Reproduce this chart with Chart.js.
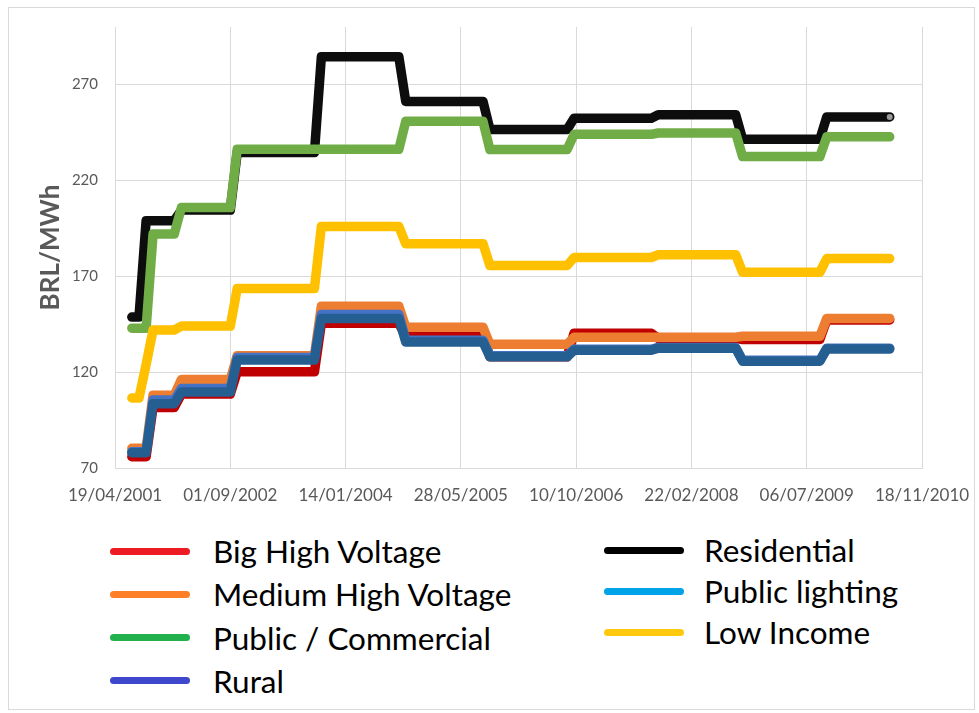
<!DOCTYPE html>
<html lang="en">
<head>
<meta charset="UTF-8">
<title>Electricity tariffs BRL/MWh</title>
<style>
    body{
        margin: 0;
        background: #fff;
        font-family: Lato, sans-serif;
    }
    .wrap{
        position: relative;
        width: 979px;
        height: 713px;
        overflow: hidden;
    }
    .frame{
        position: absolute;
        left: 8px;
        top: 7px;
        width: 967px;
        height: 703px;
        border: 1px solid #d9d9d9;
        box-sizing: border-box;
    }
    #chart{
        position: absolute;
        left: 0;
        top: 0;
    }
    .item{
        position: absolute;
        height: 30px;
        display: flex;
        align-items: center;
        font-size: 31.5px;
        color: #000;
        white-space: nowrap;
    }
    .swatch{
        display: inline-block;
        width: 80px;
        height: 7px;
        border-radius: 4px;
        margin-right: 23px;
    }
</style>
</head>
<body>
<div class="wrap">
    <div class="frame"></div>
    <canvas id="chart" width="979" height="520"></canvas>
    <div id="legend"></div>
</div>

<script src="https://cdn.jsdelivr.net/npm/chart.js"></script>
<script>
// dates where tariffs change (dd/mm/yyyy)
const dates = [
    '01/07/2001', '01/08/2001', '01/09/2001', '01/10/2001',
    '01/01/2002', '01/02/2002', '01/09/2002', '01/10/2002',
    '01/09/2003', '01/10/2003', '01/09/2004', '01/10/2004',
    '01/09/2005', '01/10/2005', '01/09/2006', '01/10/2006',
    '01/09/2007', '01/10/2007', '01/09/2008', '01/10/2008',
    '01/09/2009', '01/10/2009', '01/07/2010'
];

// BRL/MWh at each date
const bigHighVoltage    = [75.9, 75.9, 75.9, 101.6, 101.6, 108.6, 108.6, 120.2, 120.2, 145.5, 145.5, 138.6, 138.6, 128.0, 128.0, 140.3, 140.3, 137.6, 137.6, 137.0, 137.0, 147.2, 147.2];
const mediumHighVoltage = [80.3, 80.3, 80.3, 108.0, 108.0, 116.1, 116.1, 128.6, 128.6, 154.4, 154.4, 143.4, 143.4, 134.5, 134.5, 138.2, 138.2, 138.2, 138.2, 138.7, 138.7, 148.0, 148.0];
const publicCommercial  = [142.9, 142.9, 142.9, 192.0, 192.0, 205.8, 205.8, 236.2, 236.2, 236.2, 236.2, 250.8, 250.8, 236.1, 236.1, 244.0, 244.0, 244.7, 244.7, 232.4, 232.4, 242.7, 242.7];
const rural             = [78.5, 78.5, 78.5, 105.5, 105.5, 111.5, 111.5, 127.6, 127.6, 150.0, 150.0, 136.6, 136.6, 128.6, 128.6, 131.9, 131.9, 132.9, 132.9, 126.2, 126.2, 132.5, 132.5];
const residential       = [148.7, 148.7, 199.0, 199.0, 199.0, 204.5, 204.5, 234.6, 234.6, 284.5, 284.5, 261.2, 261.2, 246.6, 246.6, 252.4, 252.4, 254.2, 254.2, 241.4, 241.4, 253.1, 253.1];
const publicLighting    = [77.9, 77.9, 77.9, 103.5, 103.5, 109.6, 109.6, 126.3, 126.3, 148.0, 148.0, 135.7, 135.7, 128.0, 128.0, 131.4, 131.4, 132.5, 132.5, 125.7, 125.7, 132.0, 132.0];
const lowIncome         = [106.5, 106.5, 124.0, 142.0, 142.0, 144.0, 144.0, 163.6, 163.6, 196.0, 196.0, 187.0, 187.0, 175.6, 175.6, 179.8, 179.8, 181.2, 181.2, 172.1, 172.1, 179.2, 179.2];

const seriesNames = ['Big High Voltage', 'Medium High Voltage', 'Public / Commercial', 'Rural',
                     'Residential', 'Public lighting', 'Low Income'];
const seriesData = [bigHighVoltage, mediumHighVoltage, publicCommercial, rural,
                    residential, publicLighting, lowIncome];

// axis range
const xStart = '19/04/2001';
const xEnd = '18/11/2010';
const xStepDays = 500;
const yTicks = [70, 120, 170, 220, 270];
const yMax = 300;

// styles
const lineColors = ['#C00000', '#ED7D31', '#70AD47', '#4472C4', '#0D0D0D', '#255E91', '#FFC000'];
const legendColors = ['#ED1C24', '#FF7F27', '#22B14C', '#3F48CC', '#000000', '#00A2E8', '#FFC90E'];
const drawOrder = [6, 5, 1, 4, 2, 3, 0]; // lower = on top

function toSerial(s) {
    const [d, m, y] = s.split('/').map(Number);
    return Date.UTC(y, m - 1, d) / 86400000 + 25569;
}
function pad(n) { return n < 10 ? '0' + n : '' + n; }
function fromSerial(n) {
    const dt = new Date((n - 25569) * 86400000);
    return pad(dt.getUTCDate()) + '/' + pad(dt.getUTCMonth() + 1) + '/' + dt.getUTCFullYear();
}

const xs = dates.map(toSerial);

const datasets = seriesNames.map((name, i) => ({
    label: name,
    data: seriesData[i].map((v, j) => ({ x: xs[j], y: v })),
    borderColor: lineColors[i],
    backgroundColor: lineColors[i],
    borderWidth: 9.5,
    borderCapStyle: 'round',
    borderJoinStyle: 'round',
    pointRadius: name === 'Residential' ? (c => c.dataIndex === dates.length - 1 ? 3 : 0) : 0,
    pointBackgroundColor: '#9a9a9a',
    pointBorderWidth: 0,
    tension: 0,
    order: drawOrder[i]
}));

new Chart(document.getElementById('chart'), {
    type: 'line',
    data: { datasets: datasets },
    options: {
        responsive: false,
        animation: false,
        devicePixelRatio: 1,
        layout: { padding: { left: 0, right: 57, top: 27, bottom: 0 } },
        plugins: {
            legend: { display: false },
            tooltip: { enabled: false }
        },
        scales: {
            x: {
                type: 'linear',
                min: toSerial(xStart),
                max: toSerial(xEnd),
                grid: { color: '#d9d9d9', lineWidth: 1, drawTicks: false },
                border: { color: '#d9d9d9' },
                ticks: {
                    stepSize: xStepDays,
                    autoSkip: false,
                    maxRotation: 0,
                    padding: 17,
                    color: '#595959',
                    font: { family: 'Lato', size: 17 },
                    callback: v => fromSerial(v)
                },
                afterFit: s => {
                    s.height = 52;
                    s.paddingRight = 0;
                    s.paddingLeft = 0;
                }
            },
            y: {
                min: yTicks[0],
                max: yMax,
                grid: { color: '#d9d9d9', lineWidth: 1, drawTicks: false },
                border: { color: '#d9d9d9' },
                ticks: {
                    padding: 17,
                    color: '#595959',
                    font: { family: 'Lato', size: 15 }
                },
                afterBuildTicks: s => { s.ticks = yTicks.map(v => ({ value: v })); },
                afterFit: s => { s.width = 115; },
                title: {
                    display: true,
                    text: 'BRL/MWh',
                    color: '#595959',
                    font: { family: 'Lato', size: 26, weight: 'bold' },
                    padding: { top: 35, bottom: 0 }
                }
            }
        }
    }
});

// legend: two columns, first four on the left
const legend = document.getElementById('legend');
seriesNames.forEach((name, i) => {
    const left = i < 4;
    const row = left ? i : i - 4;
    const item = document.createElement('div');
    item.className = 'item';
    item.style.left = (left ? 110 : 604) + 'px';
    item.style.top = ((left ? 551 + row * 43.3 : 550 + row * 41) - 15) + 'px';
    const sw = document.createElement('span');
    sw.className = 'swatch';
    sw.style.background = legendColors[i];
    if (!left) sw.style.marginRight = '20px';
    item.appendChild(sw);
    item.appendChild(document.createTextNode(name));
    legend.appendChild(item);
});
</script>
</body>
</html>
